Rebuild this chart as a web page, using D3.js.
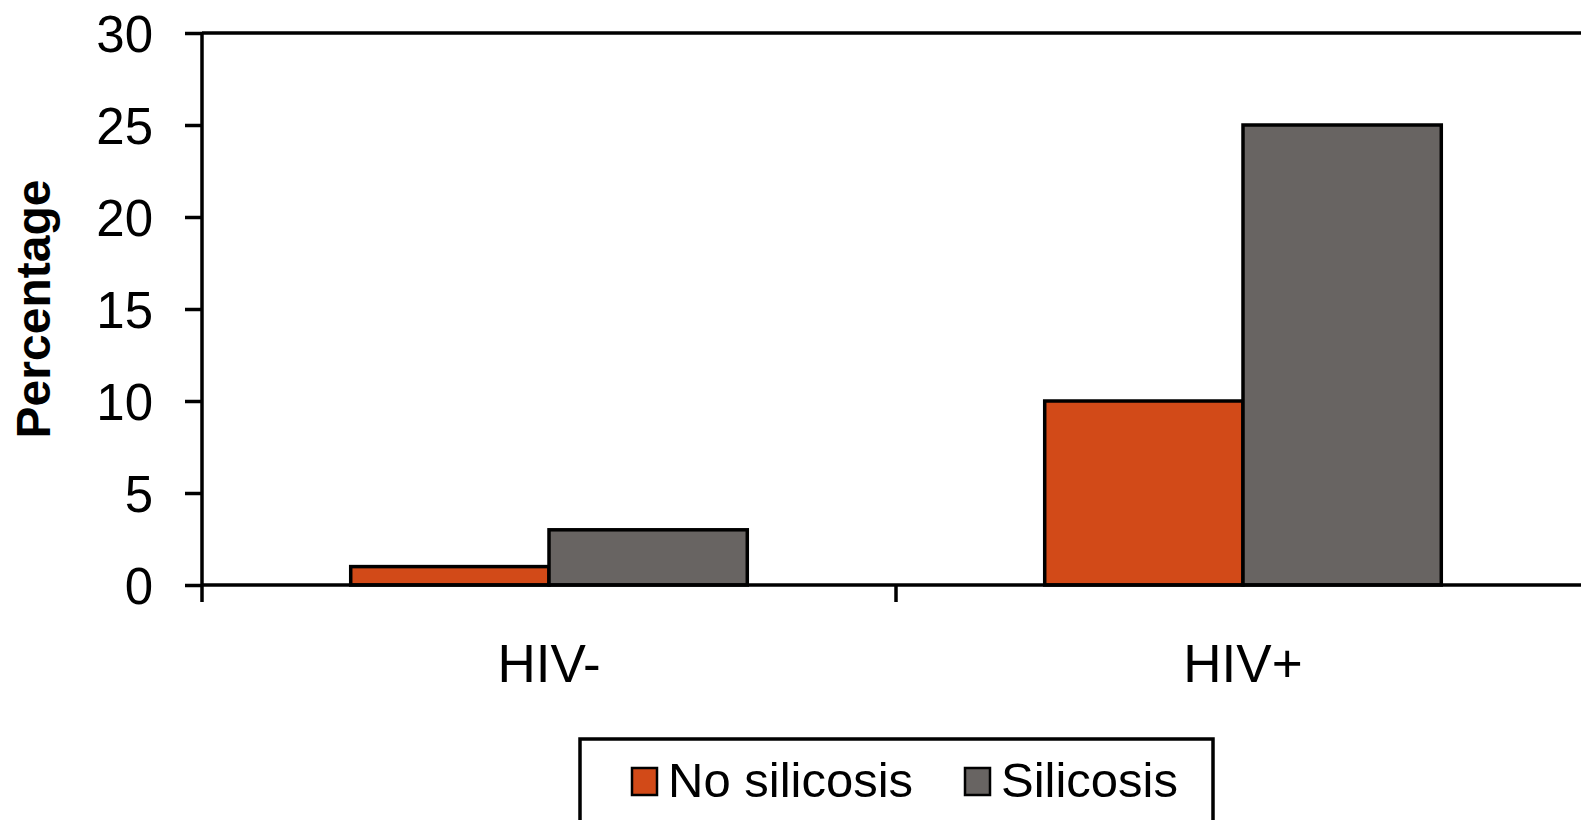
<!DOCTYPE html>
<html>
<head>
<meta charset="utf-8">
<script src="https://cdn.jsdelivr.net/npm/d3@7"></script>
<style>
    body { margin: 0; background: #fff; }
    svg { display: block; font-family: "Liberation Sans", Arial, sans-serif; }
</style>
</head>
<body>
<svg id="chart"></svg>
<script>

// Data
var categories = ["HIV-", "HIV+"];
var seriesNames = ["No silicosis", "Silicosis"];
var noSilicosis = [1, 10];
var silicosis = [3, 25];
var yTicks = [0, 5, 10, 15, 20, 25, 30];
var colors = ["#d24a18", "#686462"];

var width = 1581;
var height = 820;
var lineW = 3.5;

// Plot area (the right edge runs a little past the window, like the original)
// NOTE: "top" is taken by window.top, so use plot* names.
var plotLeft = 202;
var plotRight = 1590;
var plotTop = 33;
var plotBottom = 585;

var svg = d3.select("#chart")
    .attr("width", width)
    .attr("height", height);

var x = d3.scaleBand().domain(categories).range([plotLeft, plotRight]).padding(0);
var x1 = d3.scaleBand().domain(seriesNames).range([0, x.bandwidth()])
    .paddingInner(0).paddingOuter(0.75);
var y = d3.scaleLinear().domain([0, 30]).range([plotBottom, plotTop]);

// Build the rows for each bar
var rows = [];
categories.forEach(function (c, i) {
    rows.push({ cat: c, series: seriesNames[0], value: noSilicosis[i], color: colors[0] });
    rows.push({ cat: c, series: seriesNames[1], value: silicosis[i], color: colors[1] });
});

// Plot frame: top line and the right side (off screen)
svg.append("path")
    .attr("d", "M" + plotLeft + "," + y(30) + "H" + plotRight + "V" + y(0))
    .attr("fill", "none")
    .attr("stroke", "#000")
    .attr("stroke-width", lineW);

// Bars
svg.selectAll("rect.bar").data(rows).enter().append("rect")
    .attr("class", "bar")
    .attr("x", function (d) { return x(d.cat) + x1(d.series); })
    .attr("y", function (d) { return y(d.value); })
    .attr("width", x1.bandwidth())
    .attr("height", function (d) { return y(0) - y(d.value); })
    .attr("fill", function (d) { return d.color; })
    .attr("stroke", "#000")
    .attr("stroke-width", lineW);

// Y axis
var yAxis = svg.append("g")
    .attr("transform", "translate(" + plotLeft + ",0)")
    .call(d3.axisLeft(y).tickValues(yTicks).tickSize(17).tickPadding(32).tickSizeOuter(0));
yAxis.select(".domain").remove();
yAxis.selectAll(".tick line").attr("stroke", "#000").attr("stroke-width", lineW);
yAxis.selectAll(".tick text")
    .attr("fill", "#000")
    .style("font-size", "51px")
    .attr("dy", "0.36em");

// Y axis line (runs down past the x axis to the first category tick)
svg.append("line")
    .attr("x1", plotLeft).attr("x2", plotLeft)
    .attr("y1", y(30)).attr("y2", y(0) + 17)
    .attr("stroke", "#000").attr("stroke-width", lineW);

// X axis line
svg.append("line")
    .attr("x1", plotLeft).attr("x2", plotRight)
    .attr("y1", y(0)).attr("y2", y(0))
    .attr("stroke", "#000").attr("stroke-width", lineW);

// Category ticks sit at the band edges
svg.selectAll("line.ctick").data(categories.slice(1)).enter().append("line")
    .attr("class", "ctick")
    .attr("x1", function (d) { return x(d); })
    .attr("x2", function (d) { return x(d); })
    .attr("y1", y(0)).attr("y2", y(0) + 17)
    .attr("stroke", "#000").attr("stroke-width", lineW);

// Category labels
svg.selectAll("text.cat").data(categories).enter().append("text")
    .attr("class", "cat")
    .attr("x", function (d) { return x(d) + x.bandwidth() / 2; })
    .attr("y", 682)
    .attr("text-anchor", "middle")
    .style("font-size", "53px")
    .text(function (d) { return d; });

// Y title
svg.append("text")
    .attr("transform", "translate(50," + (plotTop + plotBottom) / 2 + ")rotate(-90)")
    .attr("text-anchor", "middle")
    .style("font-size", "48px")
    .style("font-weight", "bold")
    .text("Percentage");

// Legend box (bottom is cut off by the window)
var legend = svg.append("g");
legend.append("rect")
    .attr("x", 580).attr("y", 739)
    .attr("width", 633).attr("height", 120)
    .attr("fill", "#fff")
    .attr("stroke", "#000").attr("stroke-width", lineW);

var legendX = [632, 965];
var items = legend.selectAll("g.item").data(seriesNames).enter().append("g")
    .attr("class", "item")
    .attr("transform", function (d, i) { return "translate(" + legendX[i] + ",768)"; });
items.append("rect")
    .attr("width", 25).attr("height", 27)
    .attr("fill", function (d, i) { return colors[i]; })
    .attr("stroke", "#000").attr("stroke-width", 2.5);
items.append("text")
    .attr("x", 36)
    .attr("y", 29)
    .style("font-size", "49px")
    .text(function (d) { return d; });

</script>
</body>
</html>
